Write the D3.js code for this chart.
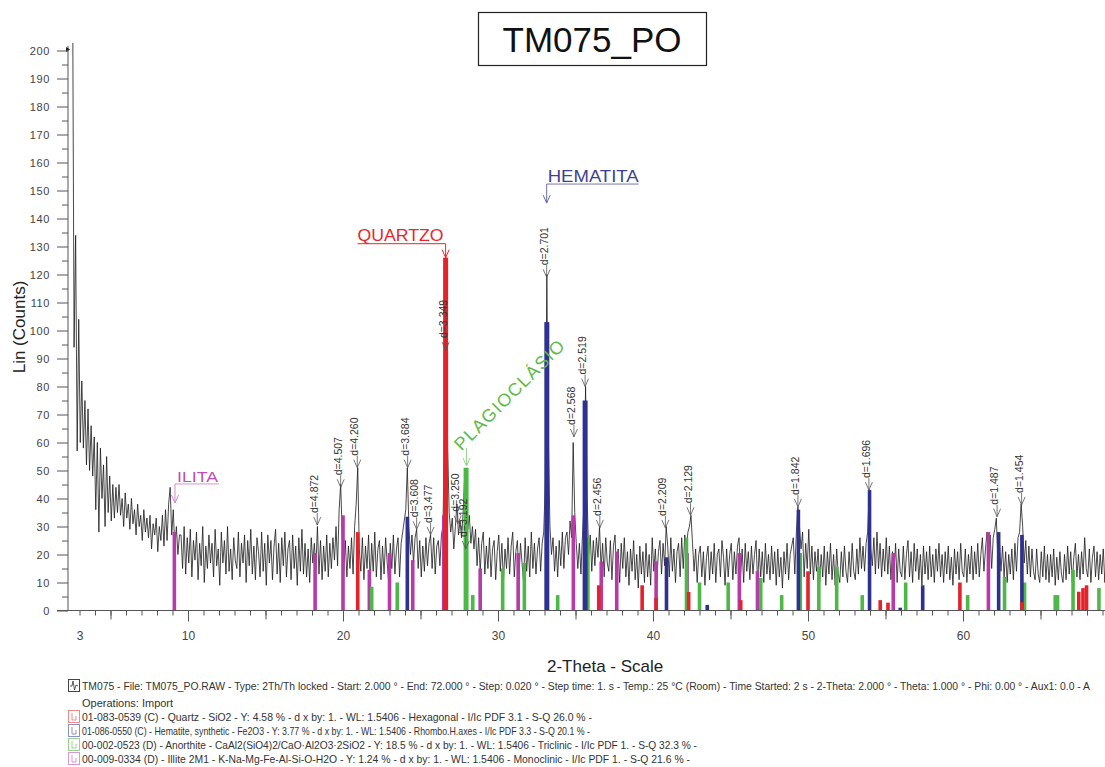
<!DOCTYPE html>
<html>
<head>
<meta charset="utf-8">
<script src="https://cdn.jsdelivr.net/npm/d3@7"></script>
<style>
  body { margin: 0; background: #fff; }
  svg { display: block; font-family: Arial, "Liberation Sans", sans-serif; }
</style>
</head>
<body>
<div id="chart"></div>
<script>
// ---- Données ----
// scan (2-Theta), lu sur le diffractogramme, un point tous les 0.1 deg à partir de 2.55
const scanStart = 2.55, scanStep = 0.1;
const counts = [
  230, 94, 134, 57, 104, 60, 82, 58, 75, 52,
  72, 50, 66, 48, 62, 36, 60, 28, 58, 40,
  52, 30, 55, 35, 48, 32, 45, 33, 44, 35,
  45, 34, 40, 30, 42, 33, 38, 29, 40, 31,
  36, 27, 38, 30, 34, 25, 36, 28, 33, 26,
  34, 22, 31, 27, 33, 21, 30, 25, 34, 23,
  36, 25, 38, 44, 27, 36, 22, 30, 20, 27,
  27, 15, 30, 13, 26, 17, 29, 12, 25, 18,
  28, 11, 24, 16, 30, 10, 23, 15, 27, 17,
  24, 12, 29, 16, 22, 9, 28, 17, 25, 13,
  30, 14, 22, 11, 26, 18, 15, 28, 12, 24,
  17, 27, 10, 25, 16, 29, 13, 23, 11, 26,
  21, 12, 28, 14, 24, 9, 27, 17, 25, 11,
  23, 29, 13, 24, 10, 26, 16, 28, 12, 22,
  25, 11, 27, 15, 23, 9, 26, 14, 29, 13,
  24, 12, 22, 10, 26, 17, 24, 15, 30, 13,
  25, 11, 23, 14, 27, 12, 24, 15, 26, 18,
  30, 16, 36, 45, 27, 14, 25, 12, 23, 15,
  26, 13, 30, 38, 51, 22, 14, 26, 11, 23,
  15, 27, 10, 24, 14, 28, 12, 22, 25, 11,
  23, 13, 26, 17, 10, 24, 15, 27, 13, 22,
  26, 12, 24, 28, 32, 36, 51, 30, 20, 27,
  17, 26, 29, 15, 25, 12, 23, 14, 26, 16,
  24, 27, 15, 26, 13, 23, 25, 16, 27, 30,
  64, 126, 58, 35, 28, 33, 22, 30, 38, 27,
  32, 26, 35, 48, 40, 29, 34, 24, 30, 22,
  29, 16, 26, 14, 24, 28, 13, 23, 15, 26,
  12, 22, 25, 11, 21, 27, 14, 24, 10, 22,
  15, 26, 13, 23, 28, 12, 21, 25, 11, 24,
  17, 10, 26, 14, 23, 12, 28, 15, 24, 13,
  22, 26, 14, 24, 28, 45, 120, 60, 30, 20,
  26, 14, 23, 12, 25, 16, 28, 15, 26, 28,
  20, 32, 26, 60, 35, 24, 15, 24, 13, 27,
  38, 80, 40, 20, 27, 14, 25, 16, 26, 19,
  30, 15, 24, 12, 26, 17, 14, 25, 11, 23,
  27, 13, 22, 10, 24, 15, 26, 12, 21, 9,
  22, 14, 25, 11, 20, 8, 23, 13, 21, 10,
  24, 12, 20, 9, 26, 14, 22, 11, 21, 25,
  13, 24, 16, 30, 23, 12, 26, 14, 22, 10,
  21, 24, 12, 26, 15, 27, 21, 28, 30, 34,
  24, 14, 22, 10, 20, 23, 12, 21, 9, 19,
  23, 11, 21, 13, 24, 10, 20, 22, 12, 25,
  19, 9, 22, 12, 20, 24, 11, 21, 13, 23,
  26, 12, 22, 10, 24, 14, 21, 11, 23, 13,
  20, 25, 9, 22, 12, 21, 10, 24, 13, 20,
  11, 23, 13, 21, 9, 22, 12, 19, 8, 21,
  13, 24, 11, 20, 23, 26, 13, 28, 37, 30,
  22, 28, 12, 24, 15, 29, 13, 23, 11, 21,
  14, 22, 10, 20, 12, 23, 9, 21, 13, 24,
  11, 20, 9, 22, 13, 10, 21, 12, 23, 14,
  10, 21, 12, 24, 14, 11, 22, 13, 26, 15,
  23, 14, 24, 28, 43, 22, 16, 26, 13, 28,
  15, 24, 12, 22, 14, 26, 13, 23, 11, 21,
  13, 24, 10, 22, 14, 12, 23, 11, 20, 25,
  12, 21, 10, 24, 14, 22, 11, 20, 9, 23,
  13, 21, 11, 23, 12, 20, 10, 22, 14, 24,
  12, 20, 10, 21, 13, 23, 11, 19, 9, 22,
  13, 21, 11, 24, 14, 12, 22, 10, 20, 13,
  23, 11, 21, 13, 24, 12, 20, 26, 14, 22,
  28, 19, 27, 15, 26, 29, 33, 18, 25, 14,
  23, 12, 21, 10, 20, 13, 22, 11, 24, 14,
  26, 28, 38, 30, 17, 25, 13, 23, 12, 22,
  14, 11, 22, 13, 10, 21, 12, 23, 11, 20,
  10, 20, 12, 22, 9, 19, 11, 21, 13, 10,
  20, 11, 23, 13, 21, 10, 19, 24, 12, 20,
  11, 21, 13, 26, 15, 12, 22, 10, 19, 23,
  12, 21, 11, 20, 13, 22, 10, 19, 12, 21
];

// fiches de référence (position 2-Theta, intensité en counts)
const quartzTheta = [20.95, 26.62, 36.5, 39.3, 40.2, 42.3, 45.66, 50.0, 54.66, 55.16, 59.8, 63.8, 67.47, 67.74, 67.97];
const quartzI     = [28, 126, 9, 9, 4.5, 6.6, 3.7, 14, 3.7, 2.8, 10, 3, 6.7, 8, 9];

const hematiteTheta = [24.15, 33.15, 35.62, 40.87, 43.5, 49.38, 53.97, 55.95, 57.4, 62.3, 63.8];
const hematiteI     = [33.5, 103, 75, 19, 2, 36, 43, 1, 9, 28, 27];

const anorthiteTheta = [21.85, 23.5, 27.94, 28.37, 30.3, 31.7, 33.85, 35.8, 42.16, 43.0, 44.85, 46.95, 48.3, 49.5, 50.7, 51.85, 53.5, 56.3, 60.3, 62.68, 63.97, 65.95, 66.1, 67.1, 68.77];
const anorthiteI     = [8.5, 10, 51, 5.5, 15, 17, 5.5, 26, 26, 10, 10, 11.6, 5.5, 20.5, 15.6, 15.6, 5.5, 10, 5.5, 12, 10, 5.5, 5.5, 14.5, 8];

const illiteTheta = [9.12, 18.2, 20.0, 21.7, 23.0, 24.5, 26.5, 28.85, 31.3, 34.86, 36.66, 37.66, 40.2, 42.2, 45.57, 46.74, 55.5, 61.64];
const illiteI     = [28, 20.5, 34, 14.5, 20.5, 18, 34, 15, 20.5, 34, 17.5, 21, 17.5, 20.5, 20.5, 14, 20.5, 28];

// étiquettes d (position, sommet du pic en counts)
const peakText  = ['d=4.872', 'd=4.507', 'd=4.260', 'd=3.684', 'd=3.608', 'd=3.477', 'd=3.349', 'd=3.250', 'd=3.192',
                   'd=2.701', 'd=2.568', 'd=2.519', 'd=2.456', 'd=2.209', 'd=2.129', 'd=1.842', 'd=1.696', 'd=1.487', 'd=1.454'];
const peakTheta = [18.34, 19.85, 20.92, 24.17, 24.75, 25.65, 26.62, 27.4, 27.92,
                   33.14, 34.9, 35.62, 36.57, 40.8, 42.42, 49.35, 53.93, 62.2, 63.78];
const peakTip   = [30.5, 44, 51, 51, 29, 27, 93, 31, 22,
                   119, 62, 80, 29.5, 29.5, 34, 37, 43, 33.5, 37.7];

const yTicks = d3.range(0, 201, 10);
const xLabels = [3, 10, 20, 30, 40, 50, 60];

const legendLines = [
  'TM075 - File: TM075_PO.RAW - Type: 2Th/Th locked - Start: 2.000 ° - End: 72.000 ° - Step: 0.020 ° - Step time: 1. s - Temp.: 25 °C (Room) - Time Started: 2 s - 2-Theta: 2.000 ° - Theta: 1.000 ° - Phi: 0.00 ° - Aux1: 0.0 - A',
  'Operations: Import',
  '01-083-0539 (C) - Quartz - SiO2 - Y: 4.58 % - d x by: 1. - WL: 1.5406 - Hexagonal - I/Ic PDF 3.1 - S-Q 26.0 % -',
  '01-086-0550 (C) - Hematite, synthetic - Fe2O3 - Y: 3.77 % - d x by: 1. - WL: 1.5406 - Rhombo.H.axes - I/Ic PDF 3.3 - S-Q 20.1 % -',
  '00-002-0523 (D) - Anorthite - CaAl2(SiO4)2/CaO·Al2O3·2SiO2 - Y: 18.5 % - d x by: 1. - WL: 1.5406 - Triclinic - I/Ic PDF 1. - S-Q 32.3 % -',
  '00-009-0334 (D) - Illite 2M1 - K-Na-Mg-Fe-Al-Si-O-H2O - Y: 1.24 % - d x by: 1. - WL: 1.5406 - Monoclinic - I/Ic PDF 1. - S-Q 21.6 % -'
];

// ---- Mise en page ----
const W = 1105, H = 767;
const svg = d3.select('#chart').append('svg').attr('width', W).attr('height', H);

const x = d3.scaleLinear().domain([2.258, 69.161]).range([68, 1105]);
const y = d3.scaleLinear().domain([0, 200]).range([610.5, 50.5]);

const colors = { quartz: '#e52229', hematite: '#2e3190', anorthite: '#4db848', illite: '#b73aa9' };

// titre
svg.append('rect').attr('x', 478.5).attr('y', 12.5).attr('width', 228).attr('height', 53)
  .attr('fill', 'none').attr('stroke', '#222').attr('stroke-width', 1.2);
svg.append('text').attr('x', 592).attr('y', 52).attr('text-anchor', 'middle')
  .attr('font-size', 35).attr('fill', '#111').text('TM075_PO');

// clip zone graphique
svg.append('clipPath').attr('id', 'plot')
  .append('rect').attr('x', 68).attr('y', 43).attr('width', W - 68).attr('height', 568);

// scan
const scan = counts.map((c, i) => [scanStart + i * scanStep, c]);
svg.append('path')
  .datum(scan)
  .attr('clip-path', 'url(#plot)')
  .attr('fill', 'none')
  .attr('stroke', '#1a1a1a')
  .attr('stroke-width', 0.8)
  .attr('d', d3.line().x(d => x(d[0])).y(d => y(d[1])));

// bâtonnets
function sticks(thetas, ints, color) {
  svg.append('g').selectAll('rect')
    .data(thetas.map((t, i) => [t, ints[i]]))
    .join('rect')
    .attr('x', d => x(d[0]) - (d[1] > 45 ? 2.5 : 1.8))
    .attr('width', d => d[1] > 45 ? 5 : 3.6)
    .attr('y', d => y(d[1]))
    .attr('height', d => y(0) - y(d[1]))
    .attr('fill', color);
}
sticks(illiteTheta, illiteI, colors.illite);
sticks(anorthiteTheta, anorthiteI, colors.anorthite);
sticks(hematiteTheta, hematiteI, colors.hematite);
sticks(quartzTheta, quartzI, colors.quartz);

// axes
const axisColor = '#555';
svg.append('line').attr('x1', 57).attr('x2', W).attr('y1', y(0)).attr('y2', y(0))
  .attr('stroke', axisColor);
svg.append('line').attr('x1', 68).attr('x2', 68).attr('y1', 46).attr('y2', y(0))
  .attr('stroke', axisColor);
svg.append('path').attr('d', 'M66,47 L70,49.5 L66,52 Z').attr('fill', '#222');

function styleAxis(g) {
  g.select('.domain').remove();
  g.selectAll('line').attr('stroke', axisColor);
  g.selectAll('text').attr('fill', '#444').attr('font-family', 'Arial, "Liberation Sans", sans-serif');
}

svg.append('g').attr('transform', 'translate(68,0)')
  .call(d3.axisLeft(y).tickValues(d3.range(5, 200, 10)).tickSize(6).tickFormat(''))
  .call(styleAxis);
svg.append('g').attr('transform', 'translate(68,0)')
  .call(d3.axisLeft(y).tickValues(yTicks).tickSize(11).tickPadding(7))
  .call(styleAxis)
  .selectAll('text').attr('font-size', 11).attr('letter-spacing', 0.6);

const xg = svg.append('g').attr('transform', `translate(0,${y(0)})`);
xg.append('g').call(d3.axisBottom(x).tickValues(d3.range(3, 70)).tickSize(5).tickFormat('')).call(styleAxis);
xg.append('g').call(d3.axisBottom(x).tickValues(d3.range(5, 70, 5)).tickSize(9).tickFormat('')).call(styleAxis);
xg.append('g').call(d3.axisBottom(x).tickValues(d3.range(10, 70, 10)).tickSize(11).tickFormat('')).call(styleAxis);
xg.append('g').call(d3.axisBottom(x).tickValues(xLabels).tickSize(0).tickPadding(21))
  .call(styleAxis)
  .selectAll('text').attr('font-size', 12);

// titres des axes
svg.append('text').attr('transform', 'translate(25,327) rotate(-90)')
  .attr('text-anchor', 'middle').attr('font-size', 17).attr('fill', '#222').text('Lin (Counts)');
svg.append('text').attr('x', 547).attr('y', 672)
  .attr('font-size', 17).attr('fill', '#222').text('2-Theta - Scale');

// étiquettes d
const lab = svg.append('g');
peakText.forEach((t, i) => {
  const px = x(peakTheta[i]), tip = y(peakTip[i]);
  lab.append('line').attr('x1', px).attr('x2', px).attr('y1', tip - 12).attr('y2', tip)
    .attr('stroke', '#555').attr('stroke-width', 0.8);
  lab.append('path').attr('d', `M${px - 3.5},${tip - 8} L${px},${tip} L${px + 3.5},${tip - 8}`)
    .attr('fill', 'none').attr('stroke', '#555').attr('stroke-width', 0.8);
  lab.append('text')
    .attr('transform', `translate(${px + 1},${tip - 12}) rotate(-90)`)
    .attr('font-size', 10.5).attr('fill', '#333').text(t);
});

// noms des minéraux
function arrowDown(g, px, top, tip, color) {
  g.append('line').attr('x1', px).attr('x2', px).attr('y1', top).attr('y2', tip)
    .attr('stroke', color).attr('stroke-width', 1);
  g.append('path').attr('d', `M${px - 3.5},${tip - 8} L${px},${tip} L${px + 3.5},${tip - 8}`)
    .attr('fill', 'none').attr('stroke', color).attr('stroke-width', 1);
}
const ann = svg.append('g');

// QUARTZO
{
  const px = x(26.62), uy = y(131), c = '#e8262c';
  ann.append('text').attr('x', px - 2).attr('y', uy - 2.5).attr('text-anchor', 'end')
    .attr('font-size', 17).attr('fill', c).attr('textLength', 86).attr('lengthAdjust', 'spacingAndGlyphs').text('QUARTZO');
  ann.append('line').attr('x1', px - 88).attr('x2', px).attr('y1', uy).attr('y2', uy).attr('stroke', c);
  arrowDown(ann, px, uy, y(126), c);
}
// HEMATITA
{
  const px = x(33.14), uy = y(152.3), c = '#3d3f94';
  ann.append('text').attr('x', px + 1).attr('y', uy - 2).attr('font-size', 16).attr('fill', c)
    .attr('textLength', 91).attr('lengthAdjust', 'spacingAndGlyphs').text('HEMATITA');
  ann.append('line').attr('x1', px).attr('x2', px + 92).attr('y1', uy).attr('y2', uy)
    .attr('stroke', c).attr('stroke-opacity', 0.7);
  arrowDown(ann, px, uy, y(145.5), '#6a6ca8');
}
// ILITA
{
  const px = x(9.16), uy = y(45.2), c = '#c04cb6';
  ann.append('text').attr('x', px + 2).attr('y', uy - 2).attr('font-size', 15).attr('fill', c)
    .attr('textLength', 41).attr('lengthAdjust', 'spacingAndGlyphs').text('ILITA');
  ann.append('line').attr('x1', px).attr('x2', px + 44).attr('y1', uy).attr('y2', uy)
    .attr('stroke', c).attr('stroke-opacity', 0.6);
  arrowDown(ann, px, uy, y(38.4), '#d488cf');
}
// PLAGIOCLÁSIO
{
  const px = x(27.97), c = '#5fba4a';
  ann.append('text').attr('transform', `translate(${px - 5},${y(56.8)}) rotate(-45)`)
    .attr('font-size', 18).attr('letter-spacing', 1.3).attr('fill', c)
    .text('PLAGIOCLÁSIO');
  arrowDown(ann, px, y(58), y(51.6), '#9ad28c');
}

// légende
const legendY = [690, 707, 721, 735, 749, 763];
const legendFit = [1008, null, 510, 508, 615, 608];
const legendStroke = ['#444', null, '#ee8a8a', '#8f90c8', '#98d48e', '#d899d2'];
const leg = svg.append('g');
legendLines.forEach((t, i) => {
  const by = legendY[i];
  const tx = leg.append('text').attr('x', 82).attr('y', by).attr('font-size', i === 0 ? 10 : 11).attr('fill', '#333')
    .text(t);
  if (legendFit[i]) tx.attr('textLength', legendFit[i]).attr('lengthAdjust', 'spacingAndGlyphs');
  if (legendStroke[i]) {
    leg.append('rect').attr('x', 68.5).attr('y', by - 10.5).attr('width', 11).attr('height', 12)
      .attr('fill', '#fff').attr('stroke', legendStroke[i]);
    if (i === 0) {
      leg.append('path').attr('d', `M70,${by - 4} L72,${by - 4} L73,${by - 9} L74.5,${by} L76,${by - 5} L78,${by - 4}`)
        .attr('fill', 'none').attr('stroke', '#333').attr('stroke-width', 0.8);
    } else {
      leg.append('path').attr('d', `M72,${by - 8} L72,${by - 1} M72,${by - 1} L76,${by - 1} M76,${by - 5} L76,${by - 1}`)
        .attr('fill', 'none').attr('stroke', legendStroke[i]).attr('stroke-width', 1);
    }
  }
});
</script>
</body>
</html>
